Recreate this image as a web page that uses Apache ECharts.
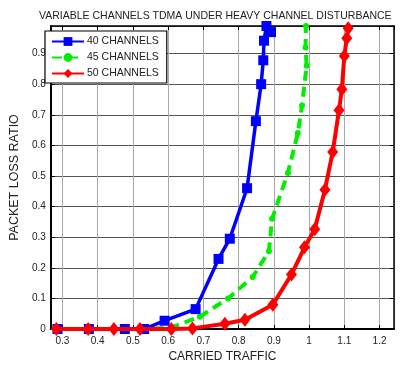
<!DOCTYPE html>
<html>
<head>
<meta charset="utf-8">
<script src="https://cdn.jsdelivr.net/npm/echarts@6/dist/echarts.min.js"></script>
<style>
  html, body { margin: 0; padding: 0; background: #fff; }
  #chart { width: 401px; height: 368px; }
</style>
</head>
<body>
<div id="chart"></div>
<script>
// values
var blueTraffic = [0.286, 0.375, 0.477, 0.532, 0.59, 0.678, 0.743, 0.775, 0.824, 0.849, 0.864, 0.870, 0.872, 0.879, 0.892]
var blueLoss = [0, 0, 0, 0, 0.027, 0.065, 0.229, 0.295, 0.46, 0.679, 0.80, 0.878, 0.942, 0.99, 0.97]

var greenTraffic = [0.286, 0.375, 0.446, 0.532, 0.609, 0.69, 0.77, 0.84, 0.886, 0.895, 0.94, 0.968, 0.98, 0.993, 0.99, 0.991]
var greenLoss = [0, 0, 0, 0, 0.005, 0.04, 0.1, 0.17, 0.254, 0.36, 0.51, 0.64, 0.73, 0.86, 0.92, 0.99]

var redTraffic = [0.283, 0.373, 0.446, 0.52, 0.609, 0.669, 0.761, 0.818, 0.897, 0.95, 0.987, 1.016, 1.045, 1.067, 1.085, 1.093, 1.100, 1.107, 1.111]
var redLoss = [0, 0, 0, 0, 0, 0.002, 0.017, 0.03, 0.079, 0.178, 0.267, 0.326, 0.455, 0.578, 0.715, 0.783, 0.892, 0.95, 0.983]

var seriesNames = ['40 CHANNELS', '45 CHANNELS', '50 CHANNELS']

function pairs(xs, ys) {
  return xs.map(function (x, i) { return [x, ys[i]] })
}

var font = 'Liberation Sans, Arial, sans-serif'
var chart = echarts.init(document.getElementById('chart'), null, { renderer: 'canvas' })

var xBase = {
  type: 'value',
  min: 0.267,
  max: 1.241,
  minInterval: 0.1,
  maxInterval: 0.1
}
var yBase = {
  type: 'value',
  min: 0,
  max: 0.99,
  interval: 0.1
}

chart.setOption({
  animation: false,
  title: {
    text: 'VARIABLE CHANNELS TDMA UNDER HEAVY CHANNEL DISTURBANCE',
    left: 34,
    top: 6,
    textStyle: { fontFamily: font, fontSize: 10.5, fontWeight: 'normal', color: '#222' }
  },
  grid: { left: 41, right: 7, top: 26, bottom: 39 },
  legend: {
    data: seriesNames,
    orient: 'vertical',
    left: 45,
    top: 31,
    padding: [5, 8, 4, 6],
    itemGap: 5,
    itemWidth: 32,
    itemHeight: 11,
    backgroundColor: '#fff',
    borderColor: '#000',
    borderWidth: 1.2,
    borderRadius: 0,
    z: 10,
    textStyle: { fontFamily: font, fontSize: 10.5, color: '#222', padding: [0, 0, 0, -2] }
  },
  xAxis: [
    Object.assign({}, xBase, {
      name: 'CARRIED TRAFFIC',
      nameLocation: 'middle',
      nameGap: 19,
      nameTextStyle: { fontFamily: font, fontSize: 12, color: '#222' },
      axisLine: { show: true, onZero: false, lineStyle: { color: '#000', width: 2 } },
      axisTick: { show: true, inside: true, length: 4, lineStyle: { color: '#000' } },
      axisLabel: { fontFamily: font, fontSize: 10, color: '#222', margin: 7, showMinLabel: false, showMaxLabel: false },
      splitLine: { show: true, lineStyle: { color: '#a8a8a8', width: 1 } }
    }),
    Object.assign({}, xBase, {
      position: 'top',
      axisLine: { show: true, onZero: false, lineStyle: { color: '#000', width: 1.5 } },
      axisTick: { show: true, inside: true, length: 4, lineStyle: { color: '#000' } },
      axisLabel: { show: false },
      splitLine: { show: false }
    })
  ],
  yAxis: [
    Object.assign({}, yBase, {
      name: 'PACKET LOSS RATIO',
      nameLocation: 'middle',
      nameGap: 27,
      nameTextStyle: { fontFamily: font, fontSize: 12.5, color: '#222' },
      axisLine: { show: true, onZero: false, lineStyle: { color: '#000', width: 2 } },
      axisTick: { show: true, inside: true, length: 4, lineStyle: { color: '#000' } },
      axisLabel: { fontFamily: font, fontSize: 10, color: '#222', margin: 5, showMaxLabel: false },
      splitLine: { show: true, lineStyle: { color: '#555', width: 1 } }
    }),
    Object.assign({}, yBase, {
      position: 'right',
      axisLine: { show: true, onZero: false, lineStyle: { color: '#000', width: 1.5 } },
      axisTick: { show: true, inside: true, length: 4, lineStyle: { color: '#000' } },
      axisLabel: { show: false },
      splitLine: { show: false }
    })
  ],
  series: [
    {
      name: seriesNames[0],
      type: 'line',
      data: pairs(blueTraffic, blueLoss),
      symbol: 'rect',
      symbolSize: 10,
      clip: false,
      color: '#0000ff',
      lineStyle: { color: '#0000ff', width: 3.5 },
      itemStyle: { color: '#0000ff' },
      z: 3
    },
    {
      name: seriesNames[1],
      type: 'line',
      data: pairs(greenTraffic, greenLoss),
      symbol: 'circle',
      symbolSize: 6,
      clip: false,
      color: '#00ee00',
      lineStyle: { color: '#00ee00', width: 4, type: [10, 6] },
      itemStyle: { color: '#00ee00' },
      z: 2
    },
    {
      name: seriesNames[2],
      type: 'line',
      data: pairs(redTraffic, redLoss),
      symbol: 'diamond',
      symbolSize: [11, 14],
      clip: false,
      color: '#ff0000',
      lineStyle: { color: '#ff0000', width: 4 },
      itemStyle: { color: '#ff0000' },
      z: 4
    }
  ]
})
</script>
</body>
</html>
